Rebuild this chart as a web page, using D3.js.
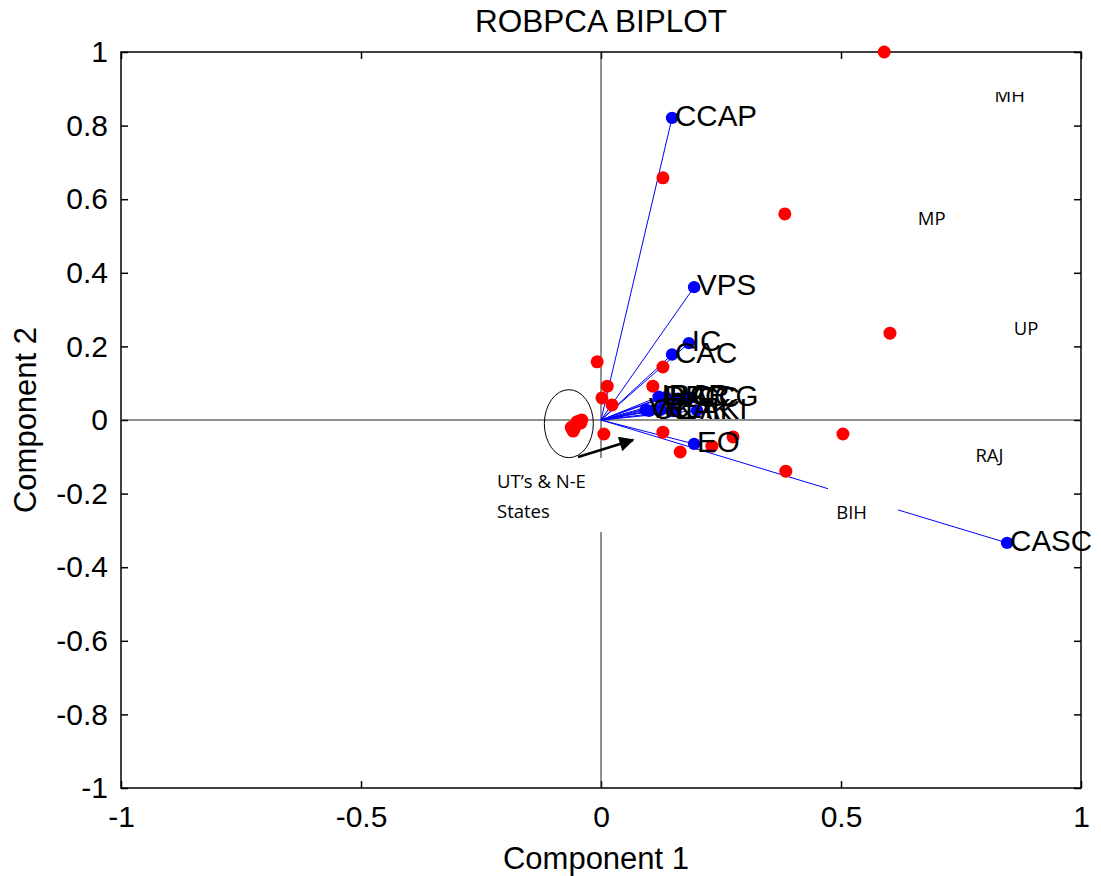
<!DOCTYPE html>
<html>
<head>
<meta charset="utf-8">
<script src="https://cdn.jsdelivr.net/npm/d3@7"></script>
<style>
  body { margin: 0; background: #fff; }
  text { font-family: "Liberation Sans", Arial, sans-serif; }
</style>
</head>
<body>
<div id="main"></div>
<script>
const width = 1101;
const height = 876;

// variable loadings (blue vectors)
const varNames = ['CCAP', 'VPS', 'IC', 'CAC', 'IPC', 'DPC', 'BAR', 'LCC', 'CCG', 'VC', 'OK', 'RLT', 'LAK', 'AKI', 'EO', 'CASC'];
const varPC1 = [0.148, 0.194, 0.183, 0.148, 0.12, 0.125, 0.135, 0.16, 0.185, 0.093, 0.1, 0.125, 0.15, 0.2, 0.194, 0.846];
const varPC2 = [0.821, 0.361, 0.209, 0.178, 0.063, 0.06, 0.062, 0.058, 0.06, 0.027, 0.025, 0.028, 0.024, 0.026, -0.065, -0.334];

// observation scores (red points)
const obsPC1 = [0.59, 0.129, 0.383, 0.602, -0.008, 0.013, 0.002, 0.023, 0.129, 0.108, 0.006, 0.129, 0.165, 0.231, 0.275, 0.385, 0.504,
  -0.06, -0.062, -0.055, -0.05, -0.045, -0.04, -0.042, -0.058];
const obsPC2 = [1.0, 0.658, 0.56, 0.236, 0.158, 0.092, 0.06, 0.041, 0.144, 0.092, -0.038, -0.033, -0.087, -0.071, -0.046, -0.139, -0.038,
  -0.025, -0.02, -0.022, -0.005, -0.003, 0.0, -0.008, -0.03];

// state annotations
const stateNames = ['MH', 'MP', 'UP', 'RAJ', 'BIH'];
const statePC1 = [0.82, 0.66, 0.86, 0.78, 0.49];
const statePC2 = [0.865, 0.53, 0.23, -0.115, -0.27];

const xTicks = [-1, -0.5, 0, 0.5, 1];
const yTicks = [-1, -0.8, -0.6, -0.4, -0.2, 0, 0.2, 0.4, 0.6, 0.8, 1];

const x = d3.scaleLinear().domain([-1, 1]).range([121, 1081]);
const y = d3.scaleLinear().domain([-1, 1]).range([788, 52]);

const svg = d3.select('#main')
  .append('svg')
  .attr('width', width)
  .attr('height', height);

// axes with inward ticks
const fmt = (d) => String(d);
svg.append('g')
  .attr('transform', `translate(0,${y(-1)})`)
  .call(d3.axisBottom(x).tickValues(xTicks).tickFormat(fmt).tickSize(-7).tickPadding(18));
svg.append('g')
  .attr('transform', `translate(${x(-1)},0)`)
  .call(d3.axisLeft(y).tickValues(yTicks).tickFormat(fmt).tickSize(-7).tickPadding(13));
svg.append('g')
  .attr('transform', `translate(0,${y(1)})`)
  .call(d3.axisTop(x).tickValues(xTicks).tickFormat('').tickSize(-7));
svg.append('g')
  .attr('transform', `translate(${x(1)},0)`)
  .call(d3.axisRight(y).tickValues(yTicks).tickFormat('').tickSize(-7));

svg.selectAll('.domain').remove();
svg.selectAll('.tick line').attr('stroke', '#000').attr('stroke-width', 1.5);
svg.selectAll('.tick text').style('font-size', '30px').attr('fill', '#000');

svg.append('rect')
  .attr('x', x(-1)).attr('y', y(1))
  .attr('width', x(1) - x(-1)).attr('height', y(-1) - y(1))
  .attr('fill', 'none').attr('stroke', '#000').attr('stroke-width', 1.5);

// zero lines
svg.append('line')
  .attr('x1', x(-1)).attr('x2', x(1)).attr('y1', y(0)).attr('y2', y(0))
  .attr('stroke', '#222').attr('stroke-width', 1);
svg.append('line')
  .attr('x1', x(0)).attr('x2', x(0)).attr('y1', y(1)).attr('y2', y(-1))
  .attr('stroke', '#222').attr('stroke-width', 1);

const vars = varNames.map((n, i) => ({ name: n, px: varPC1[i], py: varPC2[i] }));
const obs = obsPC1.map((v, i) => ({ px: v, py: obsPC2[i] }));

svg.selectAll('.vec')
  .data(vars)
  .enter()
  .append('line')
  .attr('x1', x(0)).attr('y1', y(0))
  .attr('x2', (d) => x(d.px)).attr('y2', (d) => y(d.py))
  .attr('stroke', '#0000ff').attr('stroke-width', 1);

svg.selectAll('.vdot')
  .data(vars)
  .enter()
  .append('circle')
  .attr('cx', (d) => x(d.px)).attr('cy', (d) => y(d.py))
  .attr('r', 6.2)
  .attr('fill', '#0000ff');

svg.selectAll('.odot')
  .data(obs)
  .enter()
  .append('circle')
  .attr('cx', (d) => x(d.px)).attr('cy', (d) => y(d.py))
  .attr('r', 6.5)
  .attr('fill', '#ff0000');

svg.selectAll('.vlabel')
  .data(vars)
  .enter()
  .append('text')
  .attr('x', (d) => x(d.px) + 3).attr('y', (d) => y(d.py))
  .attr('dy', '0.28em')
  .style('font-size', '29.5px')
  .text((d) => d.name);

// white text boxes that cover lines
svg.append('rect').attr('x', 492).attr('y', 458).attr('width', 118).attr('height', 74).attr('fill', '#fff');
svg.append('rect').attr('x', 828).attr('y', 487).attr('width', 70).attr('height', 40).attr('fill', '#fff');

const small = svg.append('g').style('font-size', '18.5px');
stateNames.forEach((n, i) => {
  small.append('text')
    .attr('x', x(statePC1[i])).attr('y', y(statePC2[i]))
    .style('font-family', '"Open Sans", sans-serif')
    .text(n);
});
small.append('text').attr('x', 497).attr('y', 488).style('font-family', '"Open Sans", sans-serif').text('UT’s & N-E');
small.append('text').attr('x', 497).attr('y', 518).style('font-family', '"Open Sans", sans-serif').text('States');

// box above MH clips the top of its letters
svg.append('rect').attr('x', 985).attr('y', 60).attr('width', 60).attr('height', 32).attr('fill', '#fff');

// ellipse round the UT cluster and arrow
svg.append('ellipse')
  .attr('cx', x(-0.067)).attr('cy', y(-0.01))
  .attr('rx', 24.5).attr('ry', 34)
  .attr('fill', 'none').attr('stroke', '#000').attr('stroke-width', 1);

svg.append('defs').append('marker')
  .attr('id', 'arrow')
  .attr('viewBox', '0 0 10 10')
  .attr('refX', 9).attr('refY', 5)
  .attr('markerWidth', 7).attr('markerHeight', 6)
  .attr('markerUnits', 'strokeWidth')
  .attr('orient', 'auto')
  .append('path').attr('d', 'M0,0L10,5L0,10z').attr('fill', '#000');

svg.append('line')
  .attr('x1', 578).attr('y1', 457).attr('x2', 633).attr('y2', 440)
  .attr('stroke', '#000').attr('stroke-width', 2.5)
  .attr('marker-end', 'url(#arrow)');

// titles
svg.append('text')
  .attr('x', x(0)).attr('y', 32)
  .attr('text-anchor', 'middle')
  .style('font-size', '31.5px')
  .text('ROBPCA BIPLOT');
svg.append('text')
  .attr('x', x(0) - 5).attr('y', 869)
  .attr('text-anchor', 'middle')
  .style('font-size', '31px')
  .text('Component 1');
svg.append('text')
  .attr('transform', `translate(36,${y(0)}) rotate(-90)`)
  .attr('text-anchor', 'middle')
  .style('font-size', '31px')
  .text('Component 2');
</script>
</body>
</html>
